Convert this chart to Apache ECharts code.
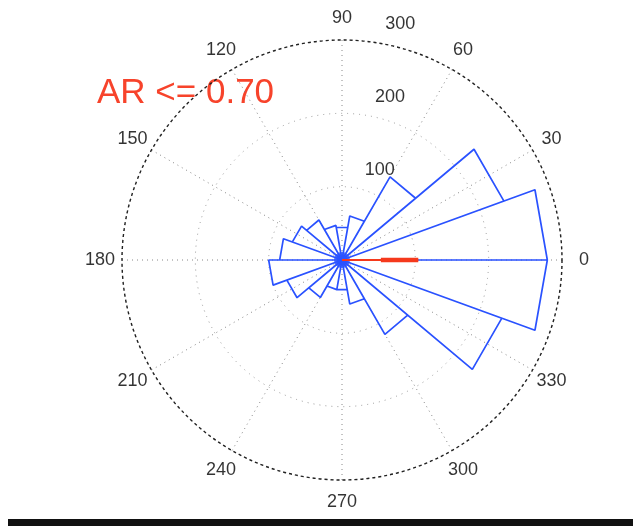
<!DOCTYPE html>
<html>
<head>
<meta charset="utf-8">
<script src="https://cdn.jsdelivr.net/npm/echarts@6/dist/echarts.min.js"></script>
<style>html,body{margin:0;padding:0;background:#fff;}#c{width:633px;height:526px;}</style>
</head>
<body>
<div id="c"></div>
<script>
// Rose histogram: bin start angles (deg), bin width and counts
const binStarts = [0, 20, 40, 60, 80, 100, 120, 140, 160, 180, 200, 220, 240, 260, 280, 300, 320, 340];
const binWidth = 20;
const binCounts = [280, 235, 131, 61, 45, 48, 63, 72, 85, 100, 80, 59, 41, 41, 61, 117, 232, 280];
// Mean direction vector (red)
const meanAngle = 0;
const meanThin = [0, 104];
const meanThick = [53, 104];
// Tick labels
const angleTicks = [0, 30, 60, 90, 120, 150, 180, 210, 240, 270, 300, 330];
const ringTicks = [100, 200, 300];
const titleText = 'AR <= 0.70';

const rMax = 300;
const rosePath = [];
binStarts.forEach((a, i) => {
  const r = binCounts[i];
  rosePath.push([0, a], [r, a], [r, a + binWidth], [0, a + binWidth]);
});

const chart = echarts.init(document.getElementById('c'));
const font = 'Liberation Sans, Arial, Helvetica, sans-serif';
chart.setOption({
  animation: false,
  backgroundColor: '#fff',
  polar: { center: [342, 260], radius: 220 },
  angleAxis: {
    type: 'value', min: 0, max: 360, interval: 30, startAngle: 0, clockwise: false,
    axisLine: { show: true, lineStyle: { color: '#222', width: 1.4, type: [3, 3] } },
    axisTick: { show: false },
    axisLabel: { show: false },
    splitLine: { show: true, lineStyle: { color: '#888', width: 1, type: [1, 4] } }
  },
  radiusAxis: {
    type: 'value', min: 0, max: rMax, interval: 100,
    axisLine: { show: false }, axisTick: { show: false }, axisLabel: { show: false },
    splitLine: { show: true, lineStyle: { color: '#999', width: 1, type: [1, 5] } }
  },
  graphic: [
    { type: 'text', left: 97, top: 76, style: { text: titleText, fill: '#f7432b', font: '35px ' + font } },
    { type: 'rect', shape: { x: 8, y: 519, width: 625, height: 7 }, style: { fill: '#111' } }
  ],
  series: [
    {
      type: 'line', coordinateSystem: 'polar', data: rosePath, symbol: 'none', clip: false,
      lineStyle: { color: '#2a52ff', width: 1.7 }, z: 3
    },
    {
      type: 'scatter', coordinateSystem: 'polar', data: [[0, 0]], symbol: 'circle', symbolSize: 16,
      itemStyle: { color: '#2a52ff' }, z: 4, clip: false, silent: true
    },
    {
      type: 'line', coordinateSystem: 'polar', data: meanThin.map(r => [r, meanAngle]), symbol: 'none',
      lineStyle: { color: '#f5391c', width: 2.2 }, z: 5
    },
    {
      type: 'line', coordinateSystem: 'polar', data: meanThick.map(r => [r, meanAngle]), symbol: 'none',
      lineStyle: { color: '#f5391c', width: 4.5 }, z: 5
    },
    {
      type: 'scatter', coordinateSystem: 'polar', clip: false, silent: true,
      data: angleTicks.map(a => [rMax * 1.1, a]), symbolSize: 1, itemStyle: { color: 'transparent' },
      label: { show: true, position: 'inside', formatter: p => String(p.value[1]), color: '#000', fontSize: 18, fontFamily: font }
    },
    {
      type: 'scatter', coordinateSystem: 'polar', clip: false, silent: true,
      data: ringTicks.map(r => [r + 5, 82]), symbolSize: 1, itemStyle: { color: 'transparent' },
      label: { show: true, position: 'inside', align: 'left', verticalAlign: 'bottom', offset: [12, -5],
        formatter: p => String(p.value[0] - 5), color: '#000', fontSize: 18, fontFamily: font }
    }
  ]
});
</script>
</body>
</html>
